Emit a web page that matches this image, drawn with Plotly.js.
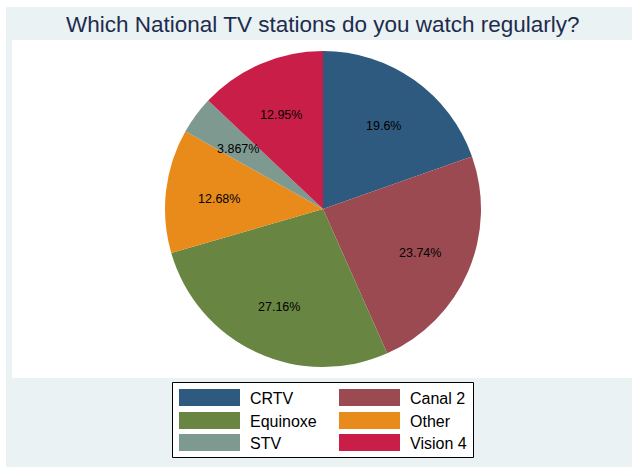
<!DOCTYPE html>
<html>
<head>
<meta charset="utf-8">
<script src="https://cdn.plot.ly/plotly-3.0.1.min.js"></script>
<style>html,body{margin:0;padding:0;background:#fff;}#chart{width:632px;height:467px;}</style>
</head>
<body>
<div id="chart"></div>
<script>
const categories = ["CRTV", "Canal 2", "Equinoxe", "Other", "STV", "Vision 4"];
const shares = [19.6, 23.74, 27.16, 12.68, 3.867, 12.95];
const colors = ["#2F5A7F", "#9B4A51", "#688542", "#E88B1B", "#7E9A90", "#C91E47"];
const titleText = "Which National TV stations do you watch regularly?";

const W = 632, H = 467;
const px = x => x / W;
const py = y => 1 - y / H;

// pie geometry (pixels)
const CX = 323, CY = 209, R = 158;
const LABEL_R = 0.665 * R;

const trace = {
  type: "pie",
  values: shares,
  labels: categories,
  textinfo: "none",
  marker: {colors: colors, line: {width: 0}},
  sort: false,
  direction: "clockwise",
  rotation: 0,
  hoverinfo: "none",
  showlegend: false,
  domain: {x: [px(CX - R), px(CX + R)], y: [py(CY + R), py(CY - R)]}
};

const shapes = [
  {type: "rect", xref: "paper", yref: "paper", x0: px(6), x1: 1, y0: 0, y1: py(7),
   fillcolor: "#EAF2F3", line: {width: 0}, layer: "below"},
  {type: "rect", xref: "paper", yref: "paper", x0: px(12), x1: 1, y0: py(378), y1: py(40),
   fillcolor: "#FFFFFF", line: {width: 0}, layer: "below"},
  {type: "rect", xref: "paper", yref: "paper", x0: px(172.5), x1: px(473.5), y0: py(457.5), y1: py(382.5),
   fillcolor: "#FFFFFF", line: {width: 1, color: "#000"}, layer: "below"}
];
const annotations = [
  {text: titleText, xref: "paper", yref: "paper", x: px(323), y: py(25), xanchor: "center", yanchor: "middle",
   showarrow: false, font: {family: "Liberation Sans, Arial, sans-serif", size: 22.5, color: "#1E2C4E"}}
];

// percentage labels placed at the middle angle of each slice
const total = shares.reduce((a, b) => a + b, 0);
let cum = 0;
shares.forEach(v => {
  const mid = (cum + v / 2) / total * 2 * Math.PI;
  cum += v;
  const x = CX + LABEL_R * Math.sin(mid);
  const y = CY - LABEL_R * Math.cos(mid) + 2.5;
  annotations.push({text: v + "%", xref: "paper", yref: "paper", x: px(x), y: py(y),
    xanchor: "center", yanchor: "middle", showarrow: false,
    font: {family: "Liberation Sans, Arial, sans-serif", size: 12.5, color: "#000"}});
});

// legend (two columns of wide swatches)
const colX = [179, 339];
const rowY = [389, 412, 434];
categories.forEach((c, i) => {
  const col = i % 2, row = Math.floor(i / 2);
  const x0 = colX[col], y0 = rowY[row];
  shapes.push({type: "rect", xref: "paper", yref: "paper", x0: px(x0), x1: px(x0 + 61), y0: py(y0 + 17), y1: py(y0),
    fillcolor: colors[i], line: {width: 0}});
  annotations.push({text: c, xref: "paper", yref: "paper", x: px(x0 + 69), y: py(y0 + 9), xanchor: "left", yanchor: "middle",
    showarrow: false, font: {family: "Liberation Sans, Arial, sans-serif", size: 16, color: "#000"}});
});

const layout = {
  width: W, height: H,
  margin: {l: 0, r: 0, t: 0, b: 0},
  paper_bgcolor: "#FFFFFF",
  showlegend: false,
  shapes: shapes,
  annotations: annotations
};

Plotly.newPlot("chart", [trace], layout, {displayModeBar: false, staticPlot: true});
</script>
</body>
</html>
